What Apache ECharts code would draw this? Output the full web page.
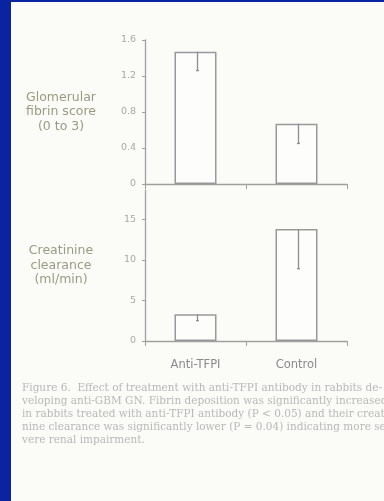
<!DOCTYPE html>
<html><head><meta charset="utf-8">
<script src="https://cdn.jsdelivr.net/npm/echarts@6/dist/echarts.min.js"></script>
<style>html,body{margin:0;padding:0;background:#fbfcf8}#c{width:384px;height:501px}</style>
</head><body><div id="c"></div>
<script>
// ---- data ----
const categories = ['Anti-TFPI', 'Control'];
const fibrinScore = [1.47, 0.67];
const fibrinErr = [0.21, 0.22];
const creatinineClearance = [3.3, 13.8];
const creatinineErr = [0.8, 4.9];
const fibrinTitle = 'Glomerular\nfibrin score\n(0 to 3)';
const clearanceTitle = 'Creatinine\nclearance\n(ml/min)';
const captionLines = [
  'Figure 6.  Effect of treatment with anti-TFPI antibody in rabbits de-',
  'veloping anti-GBM GN. Fibrin deposition was significantly increased',
  'in rabbits treated with anti-TFPI antibody (P < 0.05) and their creati-',
  'nine clearance was significantly lower (P = 0.04) indicating more se-',
  'vere renal impairment.'
];

// ---- styles ----
const axisColor = '#a0a0a0';
const labelColor = '#a8a8a8';
const titleColor = '#9a9a82';
const barBorder = '#999999';
const font = 'DejaVu Sans';

function errSeries(xi, yi, vals, errs) {
  return {
    type: 'custom', xAxisIndex: xi, yAxisIndex: yi, z: 5,
    data: vals.map((v, i) => [i, v, v - errs[i]]),
    renderItem: function (params, api) {
      const p1 = api.coord([api.value(0), api.value(1)]);
      const p2 = api.coord([api.value(0), api.value(2)]);
      const x = p1[0] + 2;
      return {
        type: 'group', children: [
          { type: 'line', shape: { x1: x, y1: p1[1], x2: x, y2: p2[1] }, style: { stroke: '#8e8e8e', lineWidth: 1.3 } },
          { type: 'line', shape: { x1: x - 1.5, y1: p2[1], x2: x + 1.5, y2: p2[1] }, style: { stroke: '#8e8e8e', lineWidth: 1.3 } }
        ]
      };
    }
  };
}

function yAxisCommon(extra) {
  return Object.assign({
    type: 'value', min: 0, splitLine: { show: false },
    axisLine: { show: true, lineStyle: { color: axisColor, width: 1.3 } },
    axisTick: { show: true, length: 3, lineStyle: { color: axisColor } },
    nameLocation: 'middle', nameRotate: 0, nameGap: 84,
    nameTextStyle: { color: titleColor, fontSize: 12.5, fontFamily: font, align: 'center', verticalAlign: 'middle', lineHeight: 14.5 }
  }, extra);
}

function xAxisCommon(extra) {
  return Object.assign({
    type: 'category', data: categories, boundaryGap: true,
    axisLine: { show: true, lineStyle: { color: axisColor, width: 1.3 } },
    axisTick: { show: true, length: 5, lineStyle: { color: axisColor } }
  }, extra);
}

const chart = echarts.init(document.getElementById('c'), null, { renderer: 'canvas' });
chart.setOption({
  backgroundColor: '#fbfcf8',
  animation: false,
  grid: [
    { left: 145, top: 40, width: 202, height: 144 },
    { left: 145, top: 190, width: 202, height: 151 }
  ],
  xAxis: [
    xAxisCommon({ gridIndex: 0, axisLabel: { show: false } }),
    xAxisCommon({ gridIndex: 1, axisLabel: { color: '#8a8a8a', fontSize: 11.5, fontFamily: font, margin: 18 } })
  ],
  yAxis: [
    yAxisCommon({ gridIndex: 0, max: 1.6, interval: 0.4, name: fibrinTitle,
      axisLabel: { color: labelColor, fontSize: 9.5, fontFamily: font, margin: 9, formatter: v => v === 0 ? '0' : v.toFixed(1) } }),
    yAxisCommon({ gridIndex: 1, max: 18.6, interval: 5, name: clearanceTitle,
      axisLabel: { color: labelColor, fontSize: 9.5, fontFamily: font, margin: 9, showMaxLabel: false } })
  ],
  series: [
    { type: 'bar', xAxisIndex: 0, yAxisIndex: 0, data: fibrinScore, barWidth: 42,
      itemStyle: { color: '#fdfefb', borderColor: barBorder, borderWidth: 1.5 } },
    { type: 'bar', xAxisIndex: 1, yAxisIndex: 1, data: creatinineClearance, barWidth: 42,
      itemStyle: { color: '#fdfefb', borderColor: barBorder, borderWidth: 1.5 } },
    errSeries(0, 0, fibrinScore, fibrinErr),
    errSeries(1, 1, creatinineClearance, creatinineErr)
  ],
  graphic: [
    { type: 'rect', left: 0, top: 0, shape: { width: 11, height: 501 }, style: { fill: '#0a23a0' }, silent: true },
    { type: 'rect', left: 0, top: 0, shape: { width: 384, height: 2 }, style: { fill: '#0a23a0' }, silent: true },
    { type: 'text', left: 22, top: 382,
      style: { text: captionLines.join('\n'), fill: '#b8b8b8', font: '10.5px "DejaVu Serif"', lineHeight: 13 } }
  ]
});
</script>
</body></html>
